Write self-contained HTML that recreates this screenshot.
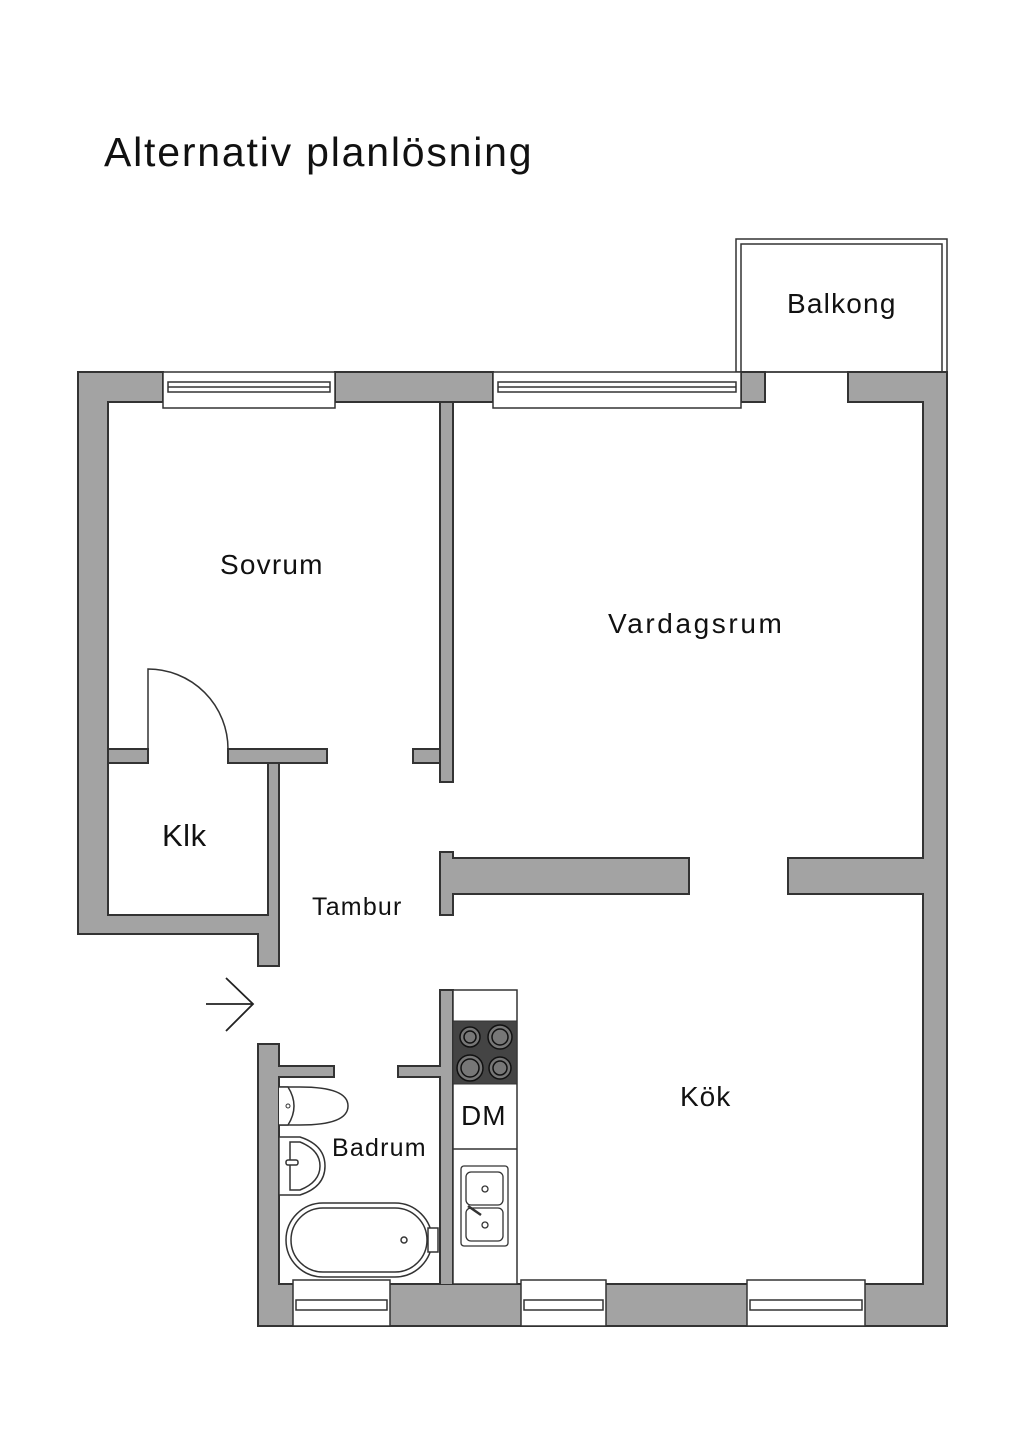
<!DOCTYPE html>
<html><head><meta charset="utf-8"><style>
html,body{margin:0;padding:0;background:#fff;}
svg{display:block;}
text{font-family:"Liberation Sans",sans-serif;fill:#111;}
</style></head><body>
<svg width="1024" height="1448" viewBox="0 0 1024 1448" xmlns="http://www.w3.org/2000/svg">
<rect width="1024" height="1448" fill="#fff"/>
<text x="104" y="166" font-size="41" letter-spacing="1.8">Alternativ planlösning</text>

<!-- balcony -->
<rect x="736" y="239" width="211" height="133" fill="none" stroke="#333" stroke-width="1.5"/>
<rect x="741" y="244" width="201" height="128" fill="none" stroke="#333" stroke-width="1.5"/>

<g id="w" stroke="#333" stroke-width="2" fill="#a3a3a3">
<rect x="78" y="372" width="85" height="30"/>
<rect x="335" y="372" width="158" height="30"/>
<rect x="741" y="372" width="24" height="30"/>
<rect x="848" y="372" width="99" height="30"/>
<rect x="78" y="372" width="30" height="562"/>
<rect x="78" y="915" width="201" height="19"/>
<rect x="268" y="763" width="11" height="203"/>
<rect x="258" y="915" width="21" height="51"/>
<rect x="108" y="749" width="40" height="14"/>
<rect x="228" y="749" width="99" height="14"/>
<rect x="413" y="749" width="27" height="14"/>
<rect x="440" y="402" width="13" height="380"/>
<rect x="440" y="852" width="13" height="63"/>
<rect x="453" y="858" width="236" height="36"/>
<rect x="788" y="858" width="135" height="36"/>
<rect x="923" y="372" width="24" height="954"/>
<rect x="258" y="1284" width="689" height="42"/>
<rect x="258" y="1044" width="21" height="282"/>
<rect x="279" y="1066" width="55" height="11"/>
<rect x="398" y="1066" width="42" height="11"/>
<rect x="440" y="990" width="13" height="294"/>
</g>
<g fill="#a3a3a3">
<rect x="79" y="373" width="83" height="28"/>
<rect x="336" y="373" width="156" height="28"/>
<rect x="849" y="373" width="97" height="28"/>
<rect x="79" y="373" width="28" height="560"/>
<rect x="79" y="916" width="199" height="17"/>
<rect x="269" y="764" width="9" height="201"/>
<rect x="259" y="916" width="19" height="49"/>
<rect x="109" y="750" width="38" height="12"/>
<rect x="441" y="403" width="11" height="378"/>
<rect x="441" y="853" width="11" height="61"/>
<rect x="441" y="859" width="247" height="34"/>
<rect x="789" y="859" width="157" height="34"/>
<rect x="924" y="373" width="22" height="952"/>
<rect x="259" y="1285" width="687" height="40"/>
<rect x="259" y="1045" width="19" height="280"/>
<rect x="259" y="1067" width="74" height="9"/>
<rect x="399" y="1067" width="53" height="9"/>
<rect x="441" y="991" width="11" height="293"/>
</g>

<!-- top windows -->
<g fill="#fff" stroke="#333" stroke-width="1.5">
<rect x="163" y="372" width="172" height="36"/>
<rect x="168" y="382" width="162" height="10"/>
<line x1="168" y1="387" x2="330" y2="387"/>
<rect x="493" y="372" width="248" height="36"/>
<rect x="498" y="382" width="238" height="10"/>
<line x1="498" y1="387" x2="736" y2="387"/>
<!-- bottom windows -->
<rect x="293" y="1280" width="97" height="46"/>
<rect x="296" y="1300" width="91" height="10"/>
<rect x="521" y="1280" width="85" height="46"/>
<rect x="524" y="1300" width="79" height="10"/>
<rect x="747" y="1280" width="118" height="46"/>
<rect x="750" y="1300" width="112" height="10"/>
</g>

<!-- door -->
<path d="M148 749 L148 669 A80 80 0 0 1 228 749" fill="none" stroke="#333" stroke-width="1.5"/>
<!-- entrance arrow -->
<g stroke="#222" stroke-width="1.8" fill="none">
<line x1="206" y1="1004" x2="253" y2="1004"/>
<polyline points="226,978 253,1004 226,1031"/>
</g>

<!-- kitchen counter -->
<rect x="453" y="990" width="64" height="294" fill="#fff" stroke="#333" stroke-width="1.5"/>
<rect x="453" y="1021" width="64" height="63" fill="#444" stroke="#333"/>
<g stroke="#111" stroke-width="1.5" fill="#777">
<circle cx="470" cy="1037" r="10"/><circle cx="470" cy="1037" r="6"/>
<circle cx="500" cy="1037" r="12"/><circle cx="500" cy="1037" r="8"/>
<circle cx="470" cy="1068" r="13"/><circle cx="470" cy="1068" r="9"/>
<circle cx="500" cy="1068" r="11"/><circle cx="500" cy="1068" r="7"/>
</g>
<line x1="453" y1="1149" x2="517" y2="1149" stroke="#333" stroke-width="1.5"/>
<text x="461" y="1125" font-size="28" letter-spacing="1">DM</text>
<g fill="#fff" stroke="#333" stroke-width="1.3">
<rect x="461" y="1166" width="47" height="80" rx="3"/>
<rect x="466" y="1172" width="37" height="33" rx="5"/>
<rect x="466" y="1208" width="37" height="33" rx="5"/>
<circle cx="485" cy="1189" r="3"/><circle cx="485" cy="1225" r="3"/>
<line x1="468" y1="1206" x2="481" y2="1215" stroke-width="2.5"/>
</g>

<!-- bathroom fixtures -->
<g fill="#fff" stroke="#333" stroke-width="1.5">
<path d="M279 1087 L300 1087 Q348 1087 348 1106 Q348 1125 300 1125 L279 1125 Z"/>
<path d="M279 1087 L288 1087 Q300 1106 288 1125 L279 1125"/>
<path d="M279 1137 L300 1137 Q325 1145 325 1166 Q325 1187 300 1195 L279 1195 Z"/>
<path d="M290 1142 L300 1142 Q320 1150 320 1166 Q320 1182 300 1190 L290 1190 Z"/>
<rect x="286" y="1160" width="12" height="5" rx="2"/>
<rect x="286" y="1203" width="146" height="74" rx="37"/>
<rect x="291" y="1208" width="136" height="64" rx="32"/>
<circle cx="404" cy="1240" r="3"/>
<rect x="428" y="1228" width="10" height="24"/>
</g>
<circle cx="288" cy="1106" r="2" fill="none" stroke="#333"/>

<!-- labels -->
<g font-size="28" letter-spacing="1.8">
<text x="787" y="313" letter-spacing="1.2">Balkong</text>
<text x="220" y="574" letter-spacing="1.2">Sovrum</text>
<text x="608" y="633" letter-spacing="2.6">Vardagsrum</text>
<text x="162" y="846" font-size="31" letter-spacing="0.5">Klk</text>
<text x="312" y="915" font-size="25" letter-spacing="1.2">Tambur</text>
<text x="680" y="1106" letter-spacing="1">Kök</text>
<text x="332" y="1156" font-size="25" letter-spacing="1.2">Badrum</text>
</g>
</svg>
</body></html>
